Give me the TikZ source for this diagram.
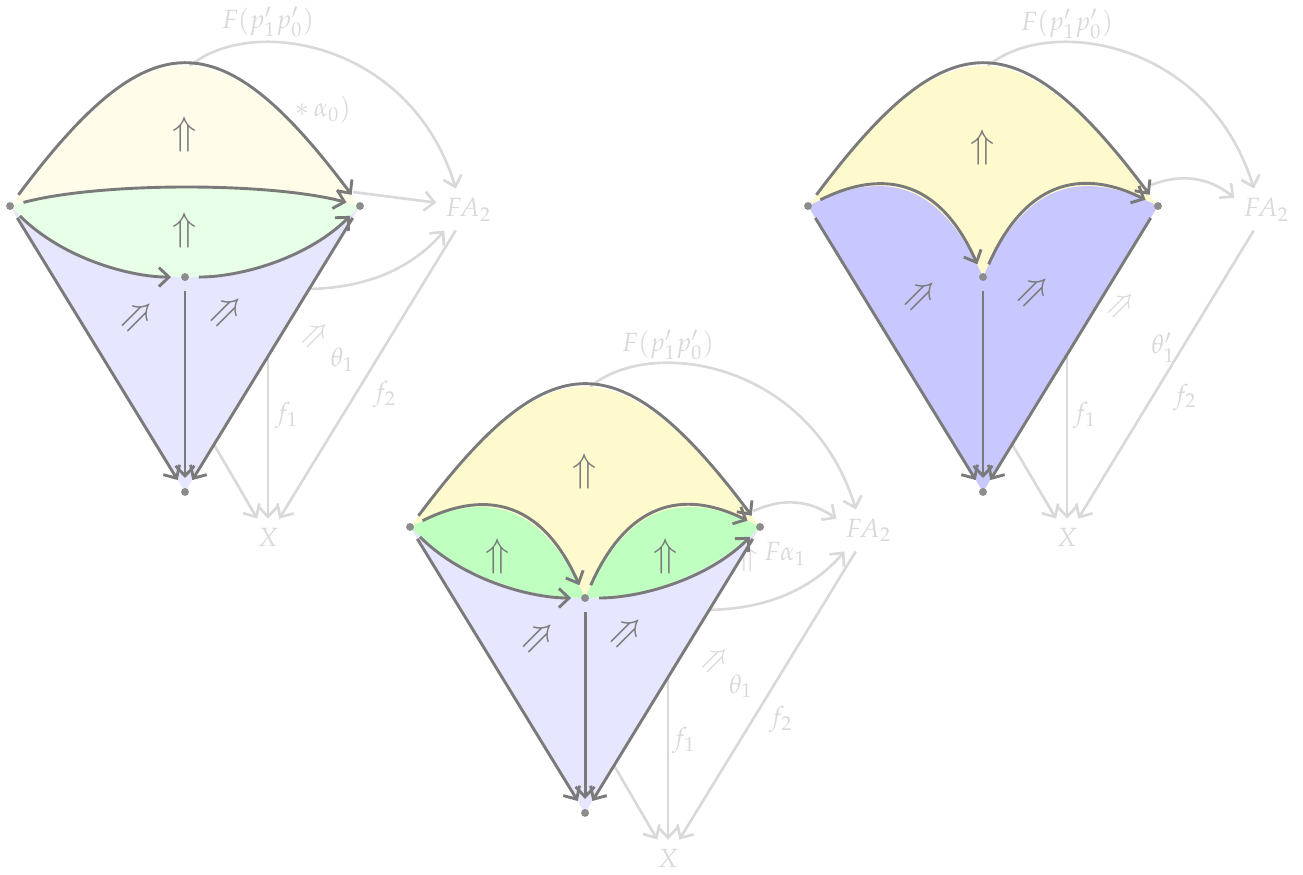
\documentclass[tikz,border=0pt]{standalone}
\usepackage{amsmath, amssymb}
\usepackage{mathpazo}
\usepackage{xcolor}
\usetikzlibrary{arrows.meta}

\definecolor{edgegray}{HTML}{7A7A7A}
\definecolor{ghost}{HTML}{D9D9D9}
\definecolor{dotgray}{HTML}{8C8C8C}
\definecolor{yelA}{HTML}{FFFDE9}
\definecolor{yelB}{HTML}{FFFACD}
\definecolor{grnA}{HTML}{E6FFE6}
\definecolor{grnB}{HTML}{BFFFBF}
\definecolor{bluA}{HTML}{E6E6FF}
\definecolor{bluB}{HTML}{C8C8FF}

\begin{document}
\begin{tikzpicture}[x=0.4667cm, y=0.4667cm, >={Straight Barb[length=3.8pt,width=7.2pt]},
    dot/.style={circle, fill=dotgray, inner sep=0pt, minimum size=3pt, outer sep=3.8pt},
    cell/.style={->, line width=1.1pt, color=edgegray},
    bg/.style={->, line width=1pt, color=ghost},
    bglabel/.style={color=ghost},
    bgcell/.style={color=ghost, font=\large, inner sep=0pt},
    twocell/.style={color=edgegray, font=\Large, inner sep=1pt}]
    \useasboundingbox (-0.286,5.886) rectangle (36.943,-19.114);

    % ===== Hình 1 =====
    \begin{scope}[name prefix=a-]
    % Sơ đồ nền xám
    \node[bglabel] (FA) at (13.1,-0.1) {$FA_2$};
    \node[bglabel] (X) at (7.37,-9.46) {$X$};
    \node[bglabel] (ltop) at (7.37,5.26) {$F(p_1'p_0')$};
    \node[bglabel] (lstar) at (8.94,2.74) {$\ast\,\alpha_0)$};
    \coordinate (g0) at (5.14,4.0);
    \coordinate (g1) at (9.8,0.4);
    \coordinate (g2) at (8.43,-2.37);
    \coordinate (g3) at (7.37,-2.8);
    \coordinate (g4) at (5.29,-5.89);
    \draw[bg] (g0) .. controls (6.86,5.46) and (11.43,4.74) .. (FA.121);
    \draw[bg] (g1) -- (FA.168);
    \draw[bg] (g2) .. controls (10.29,-2.37) and (11.57,-1.69) .. (FA.221);
    \draw[bg] (FA) -- (X);
    \draw[bg] (g3) -- (X);
    \draw[bg] (g4) -- (X);
    \node[bglabel] (lf1) at (7.91,-6.0) {$f_1$};
    \node[bglabel] (lf2) at (10.71,-5.4) {$f_2$};
    \node[bgcell, rotate=45] (ltc) at (8.78,-3.72) {$\Rightarrow$};
    \node[bglabel] (lth) at (9.5,-4.4) {$\theta_1$};

    % Các miền tô màu
    \coordinate (pL) at (0,0);
    \coordinate (pR) at (10,0);
    \coordinate (pM) at (5,-2.03);
    \coordinate (pB) at (5,-8.17);
    \fill[yelA] (pL) .. controls (4,5.34) and (6,5.34) .. (pR)
        .. controls (7.43,0.686) and (2.57,0.686) .. (pL);
    \fill[grnA] (pL) .. controls (2.57,0.686) and (7.43,0.686) .. (pR)
        .. controls (8.5,-1.5) and (6.57,-2.03) .. (pM)
        .. controls (3.43,-2.03) and (1.5,-1.5) .. (pL);
    \fill[bluA] (pL) .. controls (1.5,-1.5) and (3.43,-2.03) .. (pM)
        .. controls (6.57,-2.03) and (8.5,-1.5) .. (pR) -- (pB) -- cycle;

    % Đỉnh và cạnh
    \node[dot] (L) at (pL) {};
    \node[dot] (R) at (pR) {};
    \node[dot] (M) at (pM) {};
    \node[dot] (B) at (pB) {};
    \draw[cell] (L) .. controls (4,5.34) and (6,5.34) .. (R);
    \draw[cell] (L) .. controls (2.57,0.686) and (7.43,0.686) .. (R);
    \draw[cell] (L) .. controls (1.5,-1.5) and (3.43,-2.03) .. (M);
    \draw[cell] (M) .. controls (6.57,-2.03) and (8.5,-1.5) .. (R);
    \draw[cell] (M) -- (B);
    \draw[cell] (L) -- (B);
    \draw[cell] (R) -- (B);
    \node[twocell] (c1) at (5,2.03) {$\Uparrow$};
    \node[twocell] (c2) at (5,-0.69) {$\Uparrow$};
    \node[twocell, rotate=45] (c3) at (3.71,-3.2) {$\Rightarrow$};
    \node[twocell, rotate=45] (c4) at (6.23,-3.06) {$\Rightarrow$};
    \end{scope}

    % ===== Hình 2 =====
    \begin{scope}[shift={(11.43,-9.17)}, name prefix=b-]
    % Sơ đồ nền xám
    \node[bglabel] (FA) at (13.1,-0.1) {$FA_2$};
    \node[bglabel] (X) at (7.37,-9.46) {$X$};
    \node[bglabel] (ltop) at (7.37,5.2) {$F(p_1'p_0')$};
    \node[bgcell] (ua) at (9.63,-0.86) {$\Uparrow$};
    \node[bglabel, anchor=west] (lalpha) at (9.85,-0.78) {$F\alpha_1$};
    \coordinate (g0) at (5.14,4.0);
    \coordinate (g1) at (9.8,0.45);
    \coordinate (g2) at (8.43,-2.37);
    \coordinate (g3) at (7.37,-2.8);
    \coordinate (g4) at (5.29,-5.89);
    \draw[bg] (g0) .. controls (6.86,5.46) and (11.43,4.74) .. (FA.121);
    \draw[bg] (g1) to[bend left=30] (FA.160);
    \draw[bg] (g2) .. controls (10.29,-2.37) and (11.57,-1.69) .. (FA.221);
    \draw[bg] (FA) -- (X);
    \draw[bg] (g3) -- (X);
    \draw[bg] (g4) -- (X);
    \node[bglabel] (lf1) at (7.83,-6.1) {$f_1$};
    \node[bglabel] (lf2) at (10.6,-5.5) {$f_2$};
    \node[bgcell, rotate=45] (ltc) at (8.78,-3.85) {$\Rightarrow$};
    \node[bglabel] (lth) at (9.45,-4.55) {$\theta_1$};

    % Các miền tô màu
    \coordinate (pL) at (0,0);
    \coordinate (pR) at (10,0);
    \coordinate (pM) at (5,-2.03);
    \coordinate (pB) at (5,-8.17);
    \fill[yelB] (pL) .. controls (4,5.34) and (6,5.34) .. (pR)
        .. controls (8,1.0) and (6.3,0.9) .. (pM)
        .. controls (3.7,0.9) and (2,1.0) .. (pL);
    \fill[grnB] (pL) .. controls (2,1.0) and (3.7,0.9) .. (pM)
        .. controls (3.43,-2.03) and (1.5,-1.5) .. (pL);
    \fill[grnB] (pM) .. controls (6.3,0.9) and (8,1.0) .. (pR)
        .. controls (8.5,-1.5) and (6.57,-2.03) .. (pM);
    \fill[bluA] (pL) .. controls (1.5,-1.5) and (3.43,-2.03) .. (pM)
        .. controls (6.57,-2.03) and (8.5,-1.5) .. (pR) -- (pB) -- cycle;

    % Đỉnh và cạnh
    \node[dot] (L) at (pL) {};
    \node[dot] (R) at (pR) {};
    \node[dot] (M) at (pM) {};
    \node[dot] (B) at (pB) {};
    \draw[cell] (L) .. controls (4,5.34) and (6,5.34) .. (R);
    \draw[cell] (L) .. controls (2,1.0) and (3.7,0.9) .. (M);
    \draw[cell] (M) .. controls (6.3,0.9) and (8,1.0) .. (R);
    \draw[cell] (L) .. controls (1.5,-1.5) and (3.43,-2.03) .. (M);
    \draw[cell] (M) .. controls (6.57,-2.03) and (8.5,-1.5) .. (R);
    \draw[cell] (M) -- (B);
    \draw[cell] (L) -- (B);
    \draw[cell] (R) -- (B);
    \node[twocell] (c1) at (5,1.57) {$\Uparrow$};
    \node[twocell] (c2) at (2.49,-0.86) {$\Uparrow$};
    \node[twocell] (c3) at (7.29,-0.86) {$\Uparrow$};
    \node[twocell, rotate=45] (c4) at (3.71,-3.2) {$\Rightarrow$};
    \node[twocell, rotate=45] (c5) at (6.23,-3.06) {$\Rightarrow$};
    \end{scope}

    % ===== Hình 3 =====
    \begin{scope}[shift={(22.8,0)}, name prefix=c-]
    % Sơ đồ nền xám
    \node[bglabel] (FA) at (13.1,-0.1) {$FA_2$};
    \node[bglabel] (X) at (7.4,-9.46) {$X$};
    \node[bglabel] (ltop) at (7.4,5.2) {$F(p_1'p_0')$};
    \coordinate (g0) at (5.14,4.0);
    \coordinate (g1) at (9.8,0.6);
    \coordinate (g3) at (7.4,-2.8);
    \coordinate (g4) at (5.29,-5.89);
    \draw[bg] (g0) .. controls (6.86,5.46) and (11.43,4.74) .. (FA.121);
    \draw[bg] (g1) to[bend left=30] (FA.160);
    \draw[bg] (FA) -- (X);
    \draw[bg] (g3) -- (X);
    \draw[bg] (g4) -- (X);
    \node[bglabel] (lf1) at (7.91,-6.0) {$f_1$};
    \node[bglabel] (lf2) at (10.77,-5.46) {$f_2$};
    \node[bgcell, rotate=45] (ltc) at (9.0,-2.88) {$\Rightarrow$};
    \node[bglabel, inner sep=1pt] (lth) at (10.15,-4.05) {$\theta_1'$};

    % Các miền tô màu
    \coordinate (pL) at (0,0);
    \coordinate (pR) at (10,0);
    \coordinate (pM) at (5,-2.03);
    \coordinate (pB) at (5,-8.17);
    \fill[yelB] (pL) .. controls (4,5.34) and (6,5.34) .. (pR)
        .. controls (8,1.0) and (6.3,0.9) .. (pM)
        .. controls (3.7,0.9) and (2,1.0) .. (pL);
    \fill[bluB] (pL) .. controls (2,1.0) and (3.7,0.9) .. (pM)
        .. controls (6.3,0.9) and (8,1.0) .. (pR) -- (pB) -- cycle;

    % Đỉnh và cạnh
    \node[dot] (L) at (pL) {};
    \node[dot] (R) at (pR) {};
    \node[dot] (M) at (pM) {};
    \node[dot] (B) at (pB) {};
    \draw[cell] (L) .. controls (4,5.34) and (6,5.34) .. (R);
    \draw[cell] (L) .. controls (2,1.0) and (3.7,0.9) .. (M);
    \draw[cell] (M) .. controls (6.3,0.9) and (8,1.0) .. (R);
    \draw[cell] (M) -- (B);
    \draw[cell] (L) -- (B);
    \draw[cell] (R) -- (B);
    \node[twocell] (c1) at (5,1.66) {$\Uparrow$};
    \node[twocell, rotate=45] (c2) at (3.26,-2.6) {$\Rightarrow$};
    \node[twocell, rotate=45] (c3) at (6.49,-2.49) {$\Rightarrow$};
    \end{scope}
\end{tikzpicture}
\end{document}
